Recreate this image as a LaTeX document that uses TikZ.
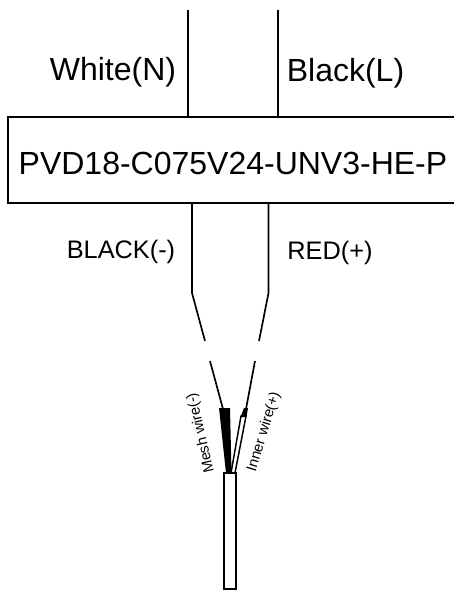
\documentclass[tikz,border=0pt]{standalone}
\usepackage{fontspec}
\setmainfont{Liberation Sans}
\tikzset{
  wire/.style={draw=black,line width=1.25pt},
  thinwire/.style={draw=black,line width=1.1pt},
  devicebox/.style={draw=black,line width=1.25pt,fill=white,minimum width=337.5pt,minimum height=64.5pt,inner sep=0pt,text height=22.4pt,text depth=0pt,font=\fontsize{24}{28}\selectfont},
  biglabel/.style={inner sep=0pt,font=\fontsize{24}{28}\selectfont},
  midlabel/.style={inner sep=0pt,font=\fontsize{19}{23}\selectfont},
  smalllabel/.style={inner sep=0pt,font=\fontsize{11}{13}\selectfont},
}
\begin{document}
\begin{tikzpicture}[x=0.75pt,y=-0.75pt]
\useasboundingbox (0,0) rectangle (454,590);
\node[devicebox] (box) at (233,160) {PVD18-C075V24-UNV3-HE-P};
\coordinate (wtop) at (188,10);
\coordinate (btop) at (278,10);
\coordinate (wbox) at (188,117);
\coordinate (bbox) at (278,117);
\draw[wire] (wtop) -- (wbox);
\draw[wire] (btop) -- (bbox);
\node[biglabel] (white) at (113,72) {White(N)};
\node[biglabel] (black) at (345.5,73.4) {Black(L)};
\coordinate (lbox) at (192,203);
\coordinate (rbox) at (268.5,203);
\coordinate (lbend) at (192,293);
\coordinate (rbend) at (268.5,293);
\coordinate (lend) at (205,341);
\coordinate (rend) at (259,341);
\draw[wire,line join=round] (lbox) -- (lbend) -- (lend);
\draw[wire,line join=round] (rbox) -- (rbend) -- (rend);
\node[midlabel] (blk) at (121,251.7) {BLACK(-)};
\node[midlabel] (red) at (330,252.7) {RED(+)};
\coordinate (lstart) at (210,361);
\coordinate (rstart) at (255,361);
\coordinate (meshtop) at (223,409);
\coordinate (innertop) at (246,409);
\draw[wire] (lstart) -- (meshtop);
\draw[wire] (rstart) -- (innertop);
\fill[black] (219,408) -- (230,408) -- (231.5,473) -- (226,473) -- cycle;
\draw[thinwire,fill=white] (231,473) -- (241,416) -- (246,416) -- (235,473) -- cycle;
\fill[black] (244,408) -- (248,408) -- (246.5,417) -- (240.5,417) -- cycle;
\draw[thinwire,fill=white] (224,473) rectangle (236,589);
\node[smalllabel,rotate=103] (mesh) at (201,433) {Mesh wire(-)};
\node[smalllabel,rotate=73] (inner) at (264,432) {Inner wire(+)};
\end{tikzpicture}
\end{document}
